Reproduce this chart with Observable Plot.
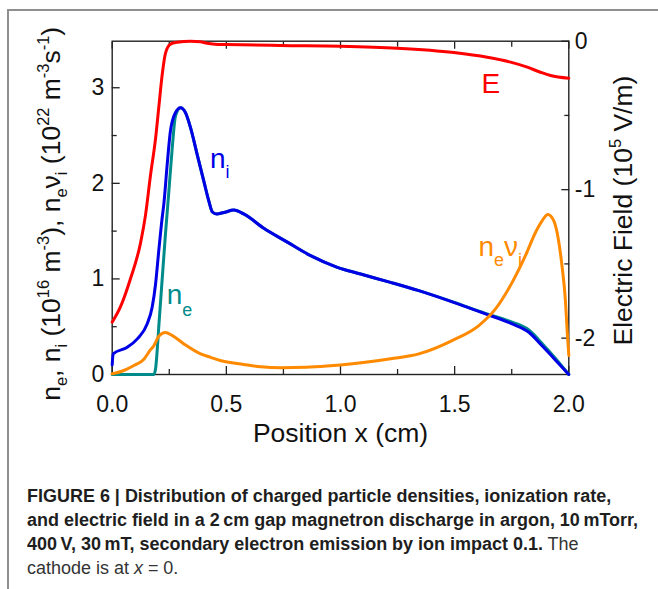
<!DOCTYPE html>
<html>
<head>
<meta charset="utf-8">
<script src="https://cdn.jsdelivr.net/npm/d3@7"></script>
<script src="https://cdn.jsdelivr.net/npm/@observablehq/plot@0.6"></script>
<style>
  html, body { margin: 0; padding: 0; background: #fff; }
  #fig { position: relative; width: 658px; height: 589px; overflow: hidden; font-family: "Liberation Sans", Arial, sans-serif; }
  #chart { position: absolute; left: 0; top: 0; z-index: 1; }
  .edge { position: absolute; background: #8f8f8f; z-index: 5; pointer-events: none; }
  #edge-left { left: 7px; top: 9px; width: 2px; height: 600px; }
  #edge-top { left: 7px; top: 9px; width: 660px; height: 2px; }
  #caption { position: absolute; left: 27px; top: 484px; z-index: 2; font-family: "Liberation Sans", Arial, sans-serif; font-size: 17.5px; line-height: 24px; color: #1e1e1e; white-space: nowrap; transform-origin: 0 0; }
  #caption b { font-weight: bold; }
  #caption .rest { color: #333; }
</style>
</head>
<body>
<div id="fig">
  <div id="chart"></div>
  <div id="caption"><b>FIGURE 6 | Distribution of charged particle densities, ionization rate,<br>and electric field in a 2&#8201;cm gap magnetron discharge in argon, 10&#8201;mTorr,<br>400&#8201;V, 30&#8201;mT, secondary electron emission by ion impact 0.1.</b><span class="rest"> The<br>cathode is at <i>x</i> = 0.</span></div>
  <div class="edge" id="edge-left"></div>
  <div class="edge" id="edge-top"></div>
</div>
<script>
// Position across the gap (cm)
const eX  = [0.000, 0.036, 0.080, 0.124, 0.146, 0.168, 0.190, 0.204, 0.219, 0.233, 0.255, 0.285, 0.343, 0.387, 0.410, 0.450, 0.500, 0.737, 1.000, 1.248, 1.496, 1.643, 1.745, 1.818, 1.876, 1.920, 2.000];
// Electric field (10^5 V/m)
const eVal = [-1.892, -1.79, -1.60, -1.36, -1.17, -0.90, -0.655, -0.446, -0.225, -0.083, -0.020, -0.007, 0.000, -0.004, -0.012, -0.020, -0.022, -0.029, -0.034, -0.047, -0.076, -0.108, -0.141, -0.175, -0.209, -0.231, -0.249];

// Ion density n_i (10^16 m^-3)
const niX = [0.000, 0.004, 0.066, 0.110, 0.153, 0.175, 0.190, 0.204, 0.219, 0.226, 0.241, 0.255, 0.277, 0.299, 0.321, 0.343, 0.372, 0.401, 0.423, 0.439, 0.457, 0.489, 0.533, 0.576, 0.664, 0.767, 0.869, 0.986, 1.088, 1.219, 1.343, 1.489, 1.635, 1.752, 1.825, 1.883, 1.942, 2.000];
const niVal = [0.10, 0.216, 0.285, 0.373, 0.529, 0.703, 0.947, 1.295, 1.643, 1.78, 2.20, 2.548, 2.739, 2.791, 2.739, 2.582, 2.304, 2.026, 1.817, 1.70, 1.68, 1.695, 1.72, 1.68, 1.53, 1.385, 1.243, 1.121, 1.051, 0.964, 0.877, 0.76, 0.634, 0.529, 0.442, 0.30, 0.15, 0.0];

// Electron density n_e (10^16 m^-3)
const neX = [0.000, 0.182, 0.190, 0.197, 0.204, 0.219, 0.233, 0.248, 0.263, 0.277, 0.299, 0.321, 0.343, 0.372, 0.401, 0.423, 0.439, 0.457, 0.489, 0.533, 0.576, 0.664, 0.767, 0.869, 0.986, 1.088, 1.219, 1.343, 1.489, 1.635, 1.752, 1.825, 1.883, 1.942, 2.000];
const neVal = [0.0, 0.0, 0.06, 0.25, 0.50, 1.00, 1.46, 1.91, 2.37, 2.70, 2.791, 2.739, 2.582, 2.304, 2.026, 1.817, 1.70, 1.68, 1.695, 1.72, 1.68, 1.53, 1.385, 1.243, 1.121, 1.051, 0.964, 0.877, 0.762, 0.640, 0.548, 0.465, 0.325, 0.168, 0.0];

// Ionization rate n_e nu_i (10^22 m^-3 s^-1)
const rX = [0.000, 0.051, 0.095, 0.139, 0.168, 0.182, 0.204, 0.233, 0.262, 0.314, 0.387, 0.431, 0.473, 0.576, 0.650, 0.740, 0.850, 0.940, 1.000, 1.100, 1.220, 1.343, 1.489, 1.606, 1.679, 1.752, 1.810, 1.854, 1.883, 1.908, 1.934, 1.956, 1.971, 1.985, 1.993, 2.000];
const rVal = [0.007, 0.042, 0.094, 0.16, 0.26, 0.30, 0.40, 0.44, 0.41, 0.32, 0.216, 0.18, 0.146, 0.105, 0.08, 0.07, 0.075, 0.088, 0.10, 0.125, 0.165, 0.216, 0.355, 0.512, 0.686, 0.964, 1.243, 1.486, 1.608, 1.675, 1.61, 1.39, 1.12, 0.78, 0.45, 0.20];

// Axis ticks
const xMajor = [0, 0.5, 1.0, 1.5, 2.0];
const xMinor = [0.25, 0.75, 1.25, 1.75];
const yMajor = [0, 1, 2, 3];
const yMinor = [0.5, 1.5, 2.5];
const eMajor = [0, -1, -2];
const eMinor = [-0.5, -1.5];

// Axis extents
const yTop = 3.487;      // density axis value at the top of the frame
const eBottom = -2.245;  // field axis value at the bottom of the frame
const eTop = 0;

// Curve annotations, positioned in data coordinates
const annotations = [
  {key: "E",        x: 1.618, y: 2.948, series: "E"},
  {key: "n_i",      x: 0.428, y: 2.165, series: "ni"},
  {key: "n_e",      x: 0.239, y: 0.741, series: "ne"},
  {key: "n_e nu_i", x: 1.604, y: 1.243, series: "rate"}
];

const colors = {E: "#ff0000", ni: "#0000e6", ne: "#008b8b", rate: "#ff8a00"};

// Field values share the frame with the densities: map them onto the left scale
const eToY = e => (e - eBottom) / (eTop - eBottom) * yTop;
const yToE = y => y / yTop * (eTop - eBottom) + eBottom;

const rows = (xs, vs) => xs.map((x, i) => ({x, v: vs[i]}));
const eRows = rows(eX, eVal);
const niRows = rows(niX, niVal);
const neRows = rows(neX, neVal);
const rRows = rows(rX, rVal);

const fmtE = y => { const e = Math.round(yToE(y)); return e === 0 ? "0" : "-" + Math.abs(e); };
const lineOpts = {x: "x", y: "v", strokeWidth: 3, curve: "monotone-x"};
const axisStroke = {stroke: "#222", strokeWidth: 1.3, label: null};
const blank = () => "";

const svg = Plot.plot({
  width: 658,
  height: 460,
  marginLeft: 111.7,
  marginRight: 89.7,
  marginTop: 40.7,
  marginBottom: 86,
  style: {background: "transparent", fontFamily: "'Liberation Sans', Arial, sans-serif", color: "#111"},
  x: {domain: [0, 2]},
  y: {domain: [0, yTop]},
  marks: [
    Plot.frame({stroke: "#222", strokeWidth: 1.4}),
    // bottom axis
    Plot.axisX(xMajor, {anchor: "bottom", tickSize: -8, tickPadding: 29, fontSize: 23, tickFormat: d3.format(".1f"), ...axisStroke}),
    Plot.axisX(xMinor, {anchor: "bottom", tickSize: -5, tickFormat: blank, ...axisStroke}),
    // top axis (ticks only)
    Plot.axisX(xMajor, {anchor: "top", tickSize: -7, tickFormat: blank, ...axisStroke}),
    Plot.axisX(xMinor, {anchor: "top", tickSize: -5, tickFormat: blank, ...axisStroke}),
    // left density axis
    Plot.axisY(yMajor, {anchor: "left", tickSize: -8, tickPadding: 16, fontSize: 23, tickFormat: d3.format("d"), ...axisStroke}),
    Plot.axisY(yMinor, {anchor: "left", tickSize: -5, tickFormat: blank, ...axisStroke}),
    // right field axis
    Plot.axisY(eMajor.map(eToY), {anchor: "right", tickSize: -8, tickPadding: 14, fontSize: 23, tickFormat: fmtE, ...axisStroke}),
    Plot.axisY(eMinor.map(eToY), {anchor: "right", tickSize: -5, tickFormat: blank, ...axisStroke}),
    // curves
    Plot.line(eRows, {x: "x", y: d => eToY(d.v), stroke: colors.E, strokeWidth: 3, curve: "monotone-x"}),
    Plot.line(neRows, {...lineOpts, stroke: colors.ne}),
    Plot.line(niRows, {...lineOpts, stroke: colors.ni}),
    Plot.line(rRows, {...lineOpts, stroke: colors.rate}),
    // curve labels
    Plot.text(annotations, {x: "x", y: "y", text: "key", fill: d => colors[d.series], fontSize: 28, textAnchor: "start", lineAnchor: "bottom"}),
    // axis titles
    Plot.text(["Position x (cm)"], {frameAnchor: "bottom", text: d => d, dy: 67.7, lineAnchor: "bottom", fontSize: 26.5, fill: "#111"}),
    Plot.text(["TITLE_LEFT"], {frameAnchor: "left", text: d => d, rotate: -90, dx: -51.7, dy: 6, lineAnchor: "bottom", textAnchor: "middle", fontSize: 26.5, fill: "#111"}),
    Plot.text(["TITLE_RIGHT"], {frameAnchor: "right", text: d => d, rotate: -90, dx: 63.2, dy: 2.7, lineAnchor: "bottom", textAnchor: "middle", fontSize: 26.5, fill: "#111"})
  ]
});

// Replace placeholder strings with sub/superscripted text runs
function richText(key, parts, {sub = 6, sup = 11, scale = 0.62} = {}) {
  d3.select(svg).selectAll("text").filter(function() { return this.textContent === key; }).each(function() {
    const t = d3.select(this);
    const base = parseFloat(this.closest("[font-size]")?.getAttribute("font-size")) || 26.5;
    t.text(null);
    let shift = 0;
    for (const [s, kind] of parts) {
      const target = kind === "sub" ? sub : kind === "sup" ? -sup : 0;
      const ts = t.append("tspan").attr("dy", target - shift).text(s);
      ts.style("font-size", (kind ? base * scale : base) + "px");
      shift = target;
    }
  });
}

richText("TITLE_LEFT", [["n"], ["e", "sub"], [", n"], ["i", "sub"], [" (10"], ["16", "sup"], [" m"], ["-3", "sup"], ["), n"], ["e", "sub"], ["\u03bd"], ["i", "sub"], [" (10"], ["22", "sup"], [" m"], ["-3", "sup"], ["s"], ["-1", "sup"], [")"]]);
richText("TITLE_RIGHT", [["Electric Field (10"], ["5", "sup"], [" V/m)"]]);
richText("n_i", [["n"], ["i", "sub"]], {sub: 10, scale: 0.64});
richText("n_e", [["n"], ["e", "sub"]], {sub: 12, scale: 0.64});
richText("n_e nu_i", [["n"], ["e", "sub"], ["\u03bd"], ["i", "sub"]], {sub: 10, scale: 0.64});

document.getElementById("chart").appendChild(svg);

// Fit the caption block to the column width
const caption = document.getElementById("caption");
const natural = caption.scrollWidth;
caption.style.transform = `scaleX(${611 / natural})`;
</script>
</body>
</html>
